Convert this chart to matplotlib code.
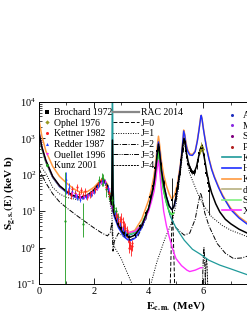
import numpy as np
import matplotlib
matplotlib.use("Agg")
import matplotlib.pyplot as plt
from matplotlib.lines import Line2D
from matplotlib.ticker import LogLocator, MultipleLocator, NullFormatter

# ---- data ----
# total R-matrix curve (black)
tot_E = [0.0, 0.1, 0.25, 0.5, 0.75, 1.0, 1.25, 1.5, 1.75, 2.0, 2.2, 2.35, 2.5, 2.6, 2.65, 2.68, 2.71,
         2.75, 2.9, 3.1, 3.3, 3.5, 3.75, 4.0, 4.1, 4.2, 4.26, 4.31, 4.36, 4.41, 4.47, 4.55, 4.65,
         4.75, 4.85, 4.92, 5.0, 5.1, 5.15, 5.2, 5.25, 5.29, 5.33, 5.38, 5.45, 5.52, 5.6, 5.68,
         5.75, 5.82, 5.88, 5.93, 5.98, 6.05, 6.12, 6.2, 6.3, 6.45, 6.6, 6.8, 7.0, 7.3, 7.6, 8.0]
tot_S = [1500, 600, 250, 90, 50, 35, 27, 24, 27, 38, 60, 72, 50, 25, 15, 900, 10,
         8, 4, 2.3, 1.9, 2.2, 4, 12, 25, 60, 140, 350, 700, 350, 130, 55, 25,
         14, 11, 13, 25, 70, 130, 280, 650, 1000, 750, 400, 220, 150, 120, 125,
         170, 300, 500, 600, 480, 250, 120, 60, 32, 16, 9.5, 6, 4.5, 3.2, 2.5, 1.9]

orange_E = [0.0, 0.1, 0.25, 0.5, 0.75, 1.0, 1.25, 1.5, 1.75, 2.0, 2.2, 2.35, 2.5, 2.6, 2.65, 2.75,
            2.9, 3.1, 3.3, 3.5, 3.75, 4.0, 4.1, 4.2, 4.26, 4.31, 4.36, 4.41, 4.47, 4.55, 4.65,
            4.75, 4.85, 4.95, 5.05, 5.1, 5.15, 5.2, 5.25, 5.28, 5.32, 5.36, 5.42, 5.5, 5.6, 5.7,
            5.78, 5.84, 5.9, 5.92, 5.95, 6.0, 6.05, 6.12, 6.2, 6.3, 6.4, 6.55, 6.7, 6.85, 7.0,
            7.3, 7.6, 8.0]
orange_S = [3200, 1200, 450, 170, 90, 60, 42, 33, 34, 45, 65, 78, 55, 25, 14, 9,
            5, 3, 2.6, 3, 6, 20, 40, 100, 220, 550, 1150, 600, 230, 100, 50,
            30, 21, 28, 55, 100, 170, 350, 900, 1700, 1300, 800, 500, 380, 360, 450,
            900, 1800, 3800, 4300, 3500, 1900, 1100, 550, 290, 150, 90, 48, 28, 18, 12,
            7, 4.8, 3.3]

blue_E = [0.0, 0.1, 0.25, 0.5, 0.75, 1.0, 1.25, 1.5, 1.75, 2.0, 2.2, 2.35, 2.5, 2.6, 2.65, 2.75,
          2.9, 3.1, 3.3, 3.5, 3.75, 4.0, 4.1, 4.2, 4.26, 4.31, 4.36, 4.41, 4.47, 4.55, 4.65,
          4.75, 4.85, 4.95, 5.05, 5.1, 5.15, 5.2, 5.25, 5.28, 5.32, 5.36, 5.42, 5.5, 5.6, 5.7,
          5.78, 5.84, 5.9, 5.92, 5.95, 6.0, 6.05, 6.12, 6.2, 6.3, 6.4, 6.55, 6.7, 6.85, 7.0,
          7.3, 7.6, 8.0]
blue_S = [1400, 550, 230, 85, 47, 33, 25, 22, 25, 36, 58, 70, 48, 24, 14, 7,
          3.5, 2.0, 1.5, 1.8, 3.5, 11, 25, 60, 140, 380, 800, 400, 140, 55, 25,
          14, 11, 15, 40, 80, 150, 320, 850, 1600, 1200, 700, 450, 350, 340, 430,
          850, 1700, 3700, 4300, 3400, 1800, 1050, 520, 275, 140, 85, 45, 26, 17, 11,
          6.5, 4.4, 3.0]

green_E = [0.0, 0.1, 0.25, 0.5, 0.75, 1.0, 1.25, 1.5, 1.75, 2.0, 2.2, 2.35, 2.5, 2.6, 2.65, 2.75,
           2.9, 3.1, 3.3, 3.5, 3.75, 4.0, 4.1, 4.2, 4.26, 4.31, 4.36, 4.41, 4.47, 4.55, 4.65,
           4.75, 4.85, 4.92]
green_S = [1300, 520, 220, 85, 48, 34, 26, 23, 26, 37, 58, 70, 50, 26, 16, 9,
           4.5, 2.8, 2.4, 2.7, 4.5, 12, 22, 45, 100, 230, 450, 230, 90, 35, 17,
           10, 8, 9]

magenta_E = [0.0, 0.1, 0.25, 0.5, 0.75, 1.0, 1.25, 1.5, 1.75, 2.0, 2.2, 2.35, 2.5, 2.6, 2.65, 2.75,
             2.9, 3.1, 3.3, 3.5, 3.75, 4.0, 4.1, 4.2, 4.26, 4.31, 4.36, 4.41, 4.47, 4.55, 4.65,
             4.75, 4.9, 5.0, 5.2, 5.4, 5.5, 5.7, 5.9, 5.95]
magenta_S = [1500, 580, 240, 88, 49, 34, 26, 23, 26, 37, 58, 70, 50, 25, 15, 8,
             4.5, 2.9, 2.6, 2.8, 4.2, 10, 18, 35, 70, 150, 250, 110, 35, 10, 4,
             2.0, 0.8, 0.5, 0.32, 0.24, 0.22, 0.24, 0.28, 0.28]

teal_E = [2.6, 2.65, 2.68, 2.71, 2.75, 2.9, 3.1, 3.3, 3.5, 3.75, 4.0, 4.1, 4.2, 4.26, 4.31, 4.36,
          4.41, 4.47, 4.55, 4.65, 4.8, 5.0, 5.3, 5.6, 5.9, 6.2, 6.6, 7.0, 7.6, 8.0]
teal_S = [26, 40, 1e5, 40, 9, 4.5, 2.7, 2.2, 2.5, 4.2, 11, 22, 45, 100, 220, 400,
          200, 80, 35, 17, 7, 3.5, 1.6, 0.9, 0.65, 0.45, 0.33, 0.26, 0.18, 0.15]

# partial waves
j0_E = [4.78, 4.84, 4.87, 4.9, 4.96]
j0_S = [0.05, 2.5, 10, 2.5, 0.05]

j1_E = [0.0, 0.25, 0.5, 0.75, 1.0, 1.5, 2.0, 2.35, 2.5, 2.65, 2.72, 2.8, 3.0, 3.2, 3.45, 3.7,
        4.05, 4.3, 4.6, 4.85, 5.0, 5.1, 5.2, 5.25, 5.3, 5.35, 5.42, 5.5, 5.6, 5.8, 6.0, 6.3,
        6.7, 7.0, 7.6, 8.0]
j1_S = [200, 110, 45, 30, 24, 20, 32, 65, 40, 10, 1.2, 0.9, 0.5, 0.22, 0.08, 0.01,
        0.08, 0.4, 1.8, 5, 15, 50, 200, 500, 900, 500, 200, 110, 70, 30, 15, 7,
        4, 3.0, 2.0, 1.6]

j2_E = [0.0, 0.1, 0.25, 0.5, 0.75, 1.0, 1.5, 2.0, 2.3, 2.5, 2.6, 2.66, 2.7, 2.75, 2.9, 3.1,
        3.3, 3.6, 3.9, 4.1, 4.25, 4.31, 4.36, 4.41, 4.47, 4.6, 4.8, 5.0, 5.3, 5.5, 5.7, 5.82,
        5.9, 5.96, 6.05, 6.2, 6.5, 6.8, 7.1, 7.4, 7.6, 8.0]
j2_S = [150, 100, 60, 30, 18, 12.5, 6.5, 3.5, 2.5, 2.1, 2.6, 5, 0.8, 1.5, 2.5, 2.0,
        1.6, 2.0, 6, 25, 120, 300, 600, 300, 110, 25, 7, 3.5, 2.2, 2.5, 6, 18,
        32, 22, 9, 4, 1.3, 0.7, 0.5, 0.52, 0.58, 0.65]

j3_E = [5.95, 6.0, 6.02, 6.04, 6.09]
j3_S = [0.05, 0.6, 1.0, 0.6, 0.05]

j4_E = [6.05, 6.09, 6.11, 6.13, 6.17]
j4_S = [0.05, 0.35, 0.5, 0.35, 0.05]

# experimental data
brochard_E = [2.9, 3.0, 3.1, 3.2, 3.3, 3.5, 3.7, 3.9, 4.05, 4.15, 4.25, 4.32, 4.38, 4.45, 4.55,
              4.85, 5.0, 5.08, 5.15, 5.2, 5.25, 5.28, 5.32, 5.36, 5.4, 5.45, 5.5, 5.55, 5.6,
              5.65, 5.7, 5.75, 5.8, 5.85, 5.9, 5.94, 5.98, 6.02, 6.06, 6.1, 6.15, 6.2]
brochard_S = [4.5, 3.5, 2.5, 2.2, 1.9, 2.2, 3.8, 9, 25, 50, 150, 450, 550, 200, 60,
              20, 30, 60, 120, 250, 500, 900, 800, 450, 300, 200, 150, 130, 120,
              115, 130, 170, 260, 400, 550, 600, 500, 350, 200, 110, 60, 35]
brochard_lo = [0.7, 0.5, 0.4, 0.3, 0.3, 0.3, 0.6, 1.5, 4, 8, 25, 70, 80, 30, 10,
               10, 10, 20, 20, 40, 80, 130, 120, 70, 45, 30, 22, 20, 18,
               17, 20, 25, 40, 60, 80, 90, 75, 55, 30, 17, 15, 27]
brochard_hi = [0.7, 0.5, 0.4, 0.3, 0.3, 0.3, 0.6, 1.5, 4, 8, 25, 70, 80, 30, 10,
               60, 15, 40, 20, 40, 80, 130, 120, 70, 45, 30, 22, 20, 18,
               17, 20, 25, 40, 60, 80, 90, 75, 55, 30, 17, 25, 25]

ophel_E = [5.88, 5.93, 5.97]
ophel_S = [450, 620, 520]
ophel_err = [80, 180, 90]

kettner_E = [1.05, 1.15, 1.22, 1.3, 1.38, 1.45, 1.52, 1.6, 1.68, 1.75, 1.85, 1.95, 2.05, 2.15,
             2.25, 2.45, 2.55, 2.8, 2.85, 2.9, 2.95, 3.0, 3.05, 3.1, 3.15, 3.2, 3.25, 3.28,
             3.3, 3.32, 3.35, 3.38, 3.4]
kettner_S = [35, 28, 40, 32, 45, 30, 38, 28, 35, 26, 30, 33, 40, 55,
             70, 45, 32, 8, 7, 6, 5.5, 6, 5, 4, 3.5, 3, 2, 1.4,
             1.0, 1.2, 0.9, 1.1, 1.3]
kettner_err = [8, 7, 9, 7, 10, 7, 8, 6, 8, 6, 7, 7, 8, 10,
               12, 10, 8, 2, 2, 2, 2, 3, 2, 1.5, 1.2, 1, 0.6, 0.4,
               0.3, 0.3, 0.3, 0.3, 0.3]

redder_E = [0.98, 1.1, 1.2, 1.3, 1.4, 1.5, 1.6, 1.7, 1.8, 1.9, 2.0, 2.1, 2.2, 2.3, 2.4, 2.5,
            2.78, 2.85, 2.95, 3.05, 3.15, 3.25]
redder_S = [75, 45, 35, 30, 25, 22, 25, 26, 28, 30, 35, 45, 55, 70, 65, 45,
            9, 6.5, 4.5, 3.2, 2.5, 2.0]
redder_err = [45, 15, 8, 6, 5, 4, 4, 4, 4, 5, 5, 6, 8, 10, 10, 8,
              2, 1.5, 1, 0.7, 0.5, 0.4]

ouellet_E = [1.2, 1.35, 1.5, 1.65, 1.8, 1.95, 2.1, 2.25, 2.4, 2.55]
ouellet_S = [32, 28, 24, 24, 26, 32, 42, 60, 65, 40]
ouellet_err = [4, 3, 3, 3, 3, 3, 4, 5, 6, 4]

kunz_E = [0.95, 1.6, 2.2, 2.3, 2.35, 2.45, 2.55, 2.65, 2.75, 2.8, 2.9]
kunz_S = [5.5, 4.5, 70, 80, 75, 40, 30, 20, 12, 10, 7]
kunz_lo = [5.45, 2.5, 20, 30, 25, 15, 10, 5, 3, 2, 1.5]
kunz_hi = [115, 12.5, 25, 30, 30, 20, 12, 6, 4, 3, 2]

right_labels = ["Assuncao 2006", "Makii 2009", "Schurmann 2011", "Plag 2012"]
right_colors = ["#1f2fbf", "#8a2be2", "#800080", "#b22222"]
fit_labels = ["Kunz 2001", "Hammer 2005", "Kunz 2002", "deBoer 2013", "Schurmann 2012", "Xu 2013"]


def main():
    plt.rcParams['font.family'] = ['Liberation Serif', 'DejaVu Serif']
    plt.rcParams['mathtext.fontset'] = 'stix'

    fig = plt.figure(figsize=(2.47, 3.19), dpi=100)
    ax = fig.add_axes([39 / 247, 1 - 284 / 319, 274 / 247, 182 / 319])

    # partial waves
    ax.plot(j0_E, j0_S, color='k', ls=(0, (4, 2)), lw=0.7)
    ax.plot(j1_E, j1_S, color='k', ls=(0, (1, 1.5)), lw=0.7)
    ax.plot(j2_E, j2_S, color='k', ls=(0, (5, 1.5, 1, 1.5)), lw=0.7)
    ax.plot(j3_E, j3_S, color='k', ls=(0, (5, 1.2, 1, 1.2, 1, 1.2)), lw=0.7)
    ax.plot(j4_E, j4_S, color='k', ls=(0, (2, 1)), lw=0.7)

    # fits
    ax.plot(teal_E, teal_S, color='#1f9a9a', lw=0.9)
    ax.plot(orange_E, orange_S, color='#ff9a40', lw=1.1)
    ax.plot(blue_E, blue_S, color='#1f2fff', lw=1.0)
    ax.plot(green_E, green_S, color='#40e040', lw=1.0)
    ax.plot(magenta_E, magenta_S, color='#ff30ff', lw=1.0)
    ax.plot(tot_E, tot_S, color='k', lw=1.1)

    eb = dict(ls='none', elinewidth=0.6, capsize=0.8, capthick=0.5, ms=1.6, mew=0)
    ax.errorbar(kunz_E, kunz_S, yerr=[kunz_lo, kunz_hi], fmt='o', color='#1a9a1a', **eb)
    ax.errorbar(kettner_E, kettner_S, yerr=kettner_err, fmt='o', color='#ff2020', **eb)
    ax.errorbar(redder_E, redder_S, yerr=redder_err, fmt='^', color='#2040ff', **eb)
    ax.errorbar(ouellet_E, ouellet_S, yerr=ouellet_err, fmt='v', color='#ff20ff', **eb)
    ax.errorbar(brochard_E, brochard_S, yerr=[brochard_lo, brochard_hi], fmt='s', color='k', **eb)
    ax.errorbar(ophel_E, ophel_S, yerr=ophel_err, fmt='D', color='#9a9a20', **eb)

    ax.set_yscale('log')
    ax.set_xlim(0, 10)
    ax.set_ylim(0.1, 1e4)
    ax.xaxis.set_major_locator(MultipleLocator(2))
    ax.xaxis.set_minor_locator(MultipleLocator(1))
    ax.yaxis.set_major_locator(LogLocator(base=10, numticks=10))
    ax.yaxis.set_minor_locator(LogLocator(base=10, subs=np.arange(2, 10), numticks=20))
    ax.yaxis.set_minor_formatter(NullFormatter())
    ax.tick_params(which='both', direction='in', top=True, right=True, labelsize=7.5, pad=2)
    ax.tick_params(which='major', length=4, width=0.6)
    ax.tick_params(which='minor', length=2, width=0.5)
    for s in ax.spines.values():
        s.set_linewidth(0.7)

    ax.set_xlabel(r'$\mathbf{E_{c.m.}}$ (MeV)', fontsize=8, fontweight='bold', labelpad=3)
    ax.set_ylabel(r'$\mathbf{S_{g.s.}(E)}$ (keV b)', fontsize=8, fontweight='bold')
    ax.yaxis.set_label_coords(-0.075, 0.5)

    # legends
    mk = dict(ls='none', ms=2.2, mew=0)
    h1 = [Line2D([], [], marker='s', color='k', **mk),
          Line2D([], [], marker='D', color='#9a9a20', **mk),
          Line2D([], [], marker='o', color='#ff2020', **mk),
          Line2D([], [], marker='^', color='#2040ff', **mk),
          Line2D([], [], marker='v', color='#ff20ff', **mk),
          Line2D([], [], marker='o', color='#1a9a1a', **mk)]
    l1 = ["Brochard 1972", "Ophel 1976", "Kettner 1982", "Redder 1987", "Ouellet 1996", "Kunz 2001"]
    leg1 = ax.legend(h1, l1, loc='upper left', bbox_to_anchor=(3 / 274, 176 / 182), frameon=False,
                     fontsize=7, handlelength=1.0, handletextpad=0.2, labelspacing=0.17,
                     borderpad=0, borderaxespad=0)
    ax.add_artist(leg1)

    h2 = [Line2D([], [], color='#888888', lw=1.6),
          Line2D([], [], color='k', lw=0.7, ls=(0, (4, 2))),
          Line2D([], [], color='k', lw=0.7, ls=(0, (1, 1.5))),
          Line2D([], [], color='k', lw=0.7, ls=(0, (5, 1.5, 1, 1.5))),
          Line2D([], [], color='k', lw=0.7, ls=(0, (5, 1.2, 1, 1.2, 1, 1.2))),
          Line2D([], [], color='k', lw=0.7, ls=(0, (2, 1)))]
    l2 = ["RAC 2014", "J=0", "J=1", "J=2", "J=3", "J=4"]
    leg2 = ax.legend(h2, l2, loc='upper left', bbox_to_anchor=(74 / 274, 176 / 182), frameon=False,
                     fontsize=7, handlelength=2.7, handletextpad=0.15, labelspacing=0.17,
                     borderpad=0, borderaxespad=0)
    ax.add_artist(leg2)

    h3 = [Line2D([], [], marker='o', color=c, ms=2.2, ls='none', mew=0) for c in right_colors]
    h3 += [Line2D([], [], color=c, lw=1.2) for c in
           ['#1f9a9a', '#1f2fff', '#ff9a40', '#b8b080', '#80f080', '#ff30ff']]
    ax.legend(h3, right_labels + fit_labels, loc='upper left', bbox_to_anchor=(183 / 274, 173 / 182),
              frameon=False, fontsize=7, handlelength=2.0, handletextpad=0.2, labelspacing=0.17,
              borderpad=0, borderaxespad=0)

    fig.savefig('out.png', dpi=100)


if __name__ == "__main__":
    main()
